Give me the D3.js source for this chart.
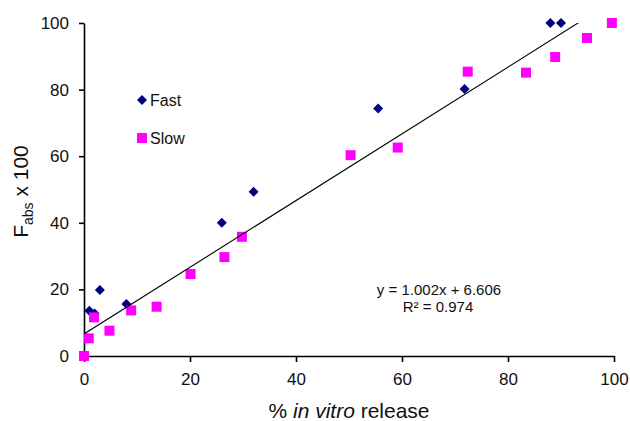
<!DOCTYPE html>
<html>
<head>
<meta charset="utf-8">
<script src="https://cdn.jsdelivr.net/npm/d3@7"></script>
<style>
  html, body { margin: 0; padding: 0; background: #fff; }
  svg { display: block; font-family: "Liberation Sans", Arial, Helvetica, sans-serif; }
</style>
</head>
<body>
<svg id="chart" width="630" height="421"></svg>
<script>
// ---- data ----
const fastX = [0, 1, 2, 3, 8, 26, 32, 55.5, 71.8, 88, 90];
const fastY = [0, 13.6, 12.8, 19.8, 15.6, 40, 49.3, 74.3, 80.2, 100, 100];
const slowX = [0, 0.9, 1.9, 4.8, 8.9, 13.7, 20.1, 26.5, 29.8, 50.3, 59.2, 72.4, 83.4, 88.9, 94.9, 99.6];
const slowY = [0, 5.3, 11.6, 7.6, 13.7, 14.8, 24.6, 29.7, 35.8, 60.3, 62.6, 85.4, 85.1, 89.8, 95.5, 100];
const xTicks = [0, 20, 40, 60, 80, 100];
const yTicks = [0, 20, 40, 60, 80, 100];
const trendSlope = 1.002;
const trendIntercept = 6.606;
const trendRange = [0, 100];
const seriesNames = ["Fast", "Slow"];
const equationLines = ["y = 1.002x + 6.606", "R² = 0.974"];

// ---- layout ----
const svg = d3.select("#chart");
const L = 84, R = 614, T = 23, B = 356;
const x = d3.scaleLinear().domain([0, 100]).range([L, R]);
const y = d3.scaleLinear().domain([0, 100]).range([B, T]);
const NAVY = "#000080", MAG = "#FF00FF";

svg.append("defs").append("clipPath").attr("id", "plotclip")
  .append("rect").attr("x", L).attr("y", T).attr("width", R - L).attr("height", B - T);

// axes
const yAxis = svg.append("g").attr("transform", `translate(${L},0)`)
  .call(d3.axisLeft(y).tickValues(yTicks).tickSize(5).tickSizeOuter(0).tickPadding(10));
const xAxis = svg.append("g").attr("transform", `translate(0,${B})`)
  .call(d3.axisBottom(x).tickValues(xTicks).tickSize(6).tickSizeOuter(0).tickPadding(11));
[yAxis, xAxis].forEach(a => {
  a.select(".domain").attr("stroke", "#000").attr("stroke-width", 1.6);
  a.selectAll(".tick line").attr("stroke", "#000").attr("stroke-width", 1.6);
  a.selectAll(".tick text").attr("fill", "#111").style("font-size", "17px")
    .style("font-family", "'Liberation Sans', Arial, sans-serif");
});

// axis titles
svg.append("text").attr("x", (L + R) / 2).attr("y", 418)
  .attr("text-anchor", "middle").style("font-size", "21px").attr("fill", "#111")
  .call(t => {
    t.append("tspan").text("% ");
    t.append("tspan").style("font-style", "italic").text("in vitro");
    t.append("tspan").text(" release");
  });

const yt = svg.append("text").attr("transform", `translate(28,${(T + B) / 2 + 2}) rotate(-90)`)
  .attr("text-anchor", "middle").style("font-size", "21px").attr("fill", "#111");
yt.append("tspan").text("F");
yt.append("tspan").attr("dy", 5).style("font-size", "14px").text("abs");
yt.append("tspan").attr("dy", -5).text(" x 100");

// symbols: diamond = square rotated 45°
const diamond = d3.symbol().type(d3.symbolSquare).size(50);
const fast = fastX.map((v, i) => ({ x: v, y: fastY[i] }));
const slow = slowX.map((v, i) => ({ x: v, y: slowY[i] }));

const plot = svg.append("g");
plot.selectAll("path.fast").data(fast).enter().append("path")
  .attr("class", "fast")
  .attr("d", diamond)
  .attr("transform", d => `translate(${x(d.x)},${y(d.y)}) rotate(45)`)
  .attr("fill", NAVY);

const sq = 10;
plot.selectAll("rect.slow").data(slow).enter().append("rect")
  .attr("class", "slow")
  .attr("x", d => x(d.x) - sq / 2).attr("y", d => y(d.y) - sq / 2)
  .attr("width", sq).attr("height", sq)
  .attr("fill", MAG);

// trendline
const trendPts = trendRange.map(v => [x(v), y(trendSlope * v + trendIntercept)]);
svg.append("path").attr("clip-path", "url(#plotclip)")
  .attr("d", d3.line()(trendPts))
  .attr("stroke", "#000").attr("stroke-width", 1.1).attr("fill", "none");

// equation
const eq = svg.append("g").attr("fill", "#111").style("font-size", "15px");
eq.append("text").attr("x", 439).attr("y", 295).attr("text-anchor", "middle").text(equationLines[0]);
eq.append("text").attr("x", 438).attr("y", 312).attr("text-anchor", "middle").text(equationLines[1]);

// legend
const lg = svg.append("g");
lg.append("path").attr("d", diamond).attr("transform", "translate(142,100) rotate(45)").attr("fill", NAVY);
lg.append("rect").attr("x", 137).attr("y", 133).attr("width", sq).attr("height", sq).attr("fill", MAG);
lg.append("text").attr("x", 150).attr("y", 105.5).style("font-size", "16px").attr("fill", "#111").text(seriesNames[0]);
lg.append("text").attr("x", 150).attr("y", 144).style("font-size", "16px").attr("fill", "#111").text(seriesNames[1]);
</script>
</body>
</html>
